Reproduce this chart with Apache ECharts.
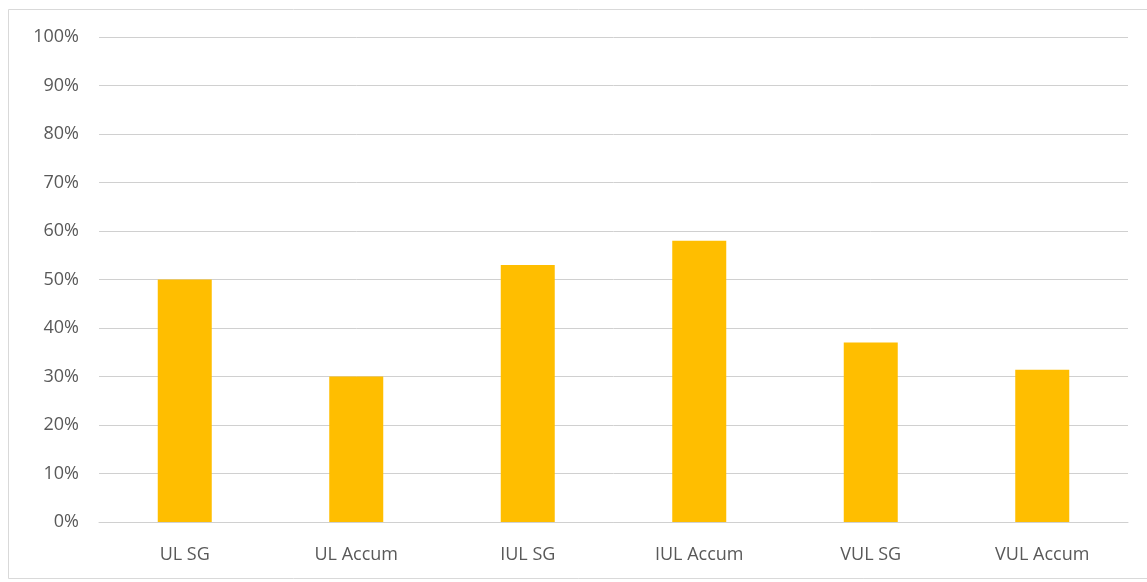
<!DOCTYPE html>
<html>
<head>
<meta charset="utf-8">
<script src="https://cdn.jsdelivr.net/npm/echarts@6/dist/echarts.min.js"></script>
<style>
  html, body { margin: 0; padding: 0; background: #fff; }
  #chart { width: 1147px; height: 582px; }
</style>
</head>
<body>
<div id="chart"></div>
<script>
  var categories = ['UL SG', 'UL Accum', 'IUL SG', 'IUL Accum', 'VUL SG', 'VUL Accum'];
  var values = [50, 30, 53, 58, 37, 31.4];

  var textColor = '#595959';
  var gridColor = '#d0d0d0';
  var barColor = '#ffbe00';

  var chart = echarts.init(document.getElementById('chart'), null, { renderer: 'canvas' });

  chart.setOption({
    backgroundColor: '#fff',
    animation: false,
    graphic: [{
      type: 'rect',
      left: 6,
      top: 7,
      shape: { width: 1150, height: 569 },
      style: { fill: 'none', stroke: '#d9d9d9', lineWidth: 1 },
      silent: true
    }],
    grid: { left: 99, right: 19, top: 37, bottom: 60 },
    xAxis: {
      type: 'category',
      data: categories,
      axisLine: { lineStyle: { color: gridColor } },
      axisTick: { show: false },
      axisLabel: {
        color: textColor,
        fontFamily: 'Open Sans',
        fontSize: 18,
        margin: 24
      }
    },
    yAxis: {
      type: 'value',
      min: 0,
      max: 100,
      interval: 10,
      axisLine: { show: false },
      axisTick: { show: false },
      splitLine: { lineStyle: { color: gridColor, width: 1 } },
      axisLabel: {
        color: textColor,
        fontFamily: 'Open Sans',
        fontSize: 18,
        margin: 20,
        formatter: '{value}%'
      }
    },
    series: [{
      type: 'bar',
      data: values,
      barWidth: 54,
      itemStyle: { color: barColor }
    }]
  });
</script>
</body>
</html>
